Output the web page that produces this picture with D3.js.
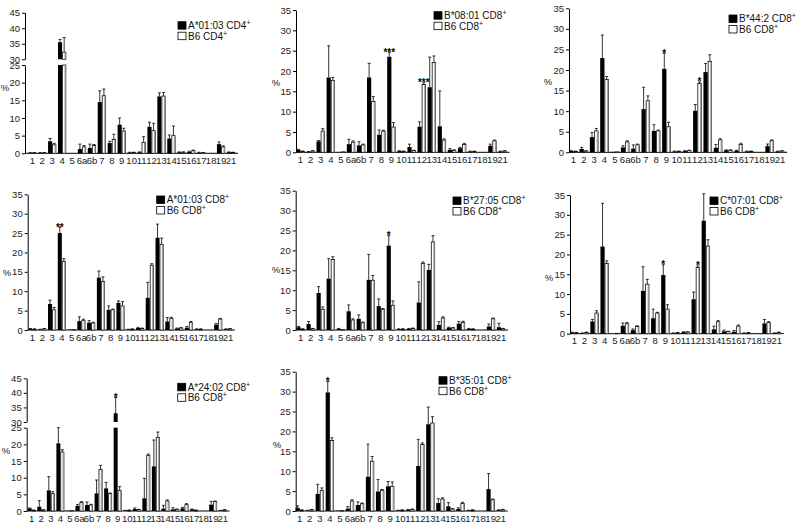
<!DOCTYPE html>
<html><head><meta charset="utf-8">
<script src="https://cdn.jsdelivr.net/npm/d3@7"></script>
<style>body{margin:0;background:#fff} svg{display:block} text{font-family:"Liberation Sans",Arial,sans-serif}</style>
</head><body><svg id="c" width="800" height="526"></svg>
<script>
const categories = ["1","2","3","4","5","6a","6b","7","8","9","10","11","12","13","14","15","16","17","18","19","21"];
const b6CD4      = [0.1,0.1,2.4,32.3,0,1.8,2.2,16.3,3.9,6.3,0.2,3.1,6.4,16.2,5.0,0.3,0.7,0.1,0,1.8,0.2];
const b6CD4Err   = [0.1,0.1,0.4,4.7,0,0.4,0.3,1.9,1.5,0.8,0.1,1.6,2.1,1.0,2.7,0.1,0.2,0.1,0,0.3,0.1];
const a0103CD4   = [0.1,0.1,3.4,35.5,0,1.2,1.5,14.5,2.9,8.1,0.2,0.3,7.5,16.1,4.2,0.3,0.4,0.2,0,2.6,0.3];
const a0103CD4Err= [0.1,0.1,0.8,0.9,0,1.4,1.1,3.2,0.5,1.9,0.1,0.1,1.3,1.0,1.0,0.1,0.2,0.1,0,0.6,0.1];
const b6CD8      = [0.2,0.3,5.2,17.7,0.1,2.5,1.8,12.5,5.2,6.2,0.2,0.4,16.7,22.1,3.0,0.5,1.9,0.2,0,2.8,0.3];
const b6CD8Err   = [0.1,0.1,0.6,0.7,0,0.3,0.2,1.2,0.2,1.1,0.1,0.1,0.4,1.6,0.3,0.1,0.3,0.1,0,0.2,0.1];
const b0801CD8   = [0.6,0.1,2.7,18.4,0,2.0,1.7,18.4,4.3,23.5,0.3,1.3,6.3,16.0,6.4,0.6,1.0,0.2,0,1.6,0.2];
const b0801CD8Err= [0.1,0.1,0.2,7.8,0,1.2,0.9,3.5,1.2,1.1,0.1,0.7,1.2,7.4,8.7,0.3,0.2,0.1,0,0.4,0.1];
const b442CD8    = [0.3,0.8,3.7,22.9,0.1,1.2,0.9,10.5,5.2,20.3,0.2,0.3,10.1,19.5,1.1,0.5,0.4,0.2,0,1.5,0.2];
const b442CD8Err = [0.1,0.4,1.1,5.6,0,0.4,0.9,5.3,1.5,3.8,0.1,0.1,1.5,2.1,0.8,0.1,0.1,0.1,0,0.5,0.1];
const a0103CD8   = [0.3,0.1,6.7,25.0,0.1,2.3,1.9,13.5,5.2,7.0,0.1,0.5,8.3,23.8,2.2,0.4,0.6,0.2,0,1.4,0.2];
const a0103CD8Err= [0.1,0.1,1.0,1.5,0,1.1,0.5,1.7,1.0,0.5,0.1,0.2,4.0,3.5,1.0,0.1,0.3,0.1,0,0.3,0.1];
const b2705CD8   = [0.7,1.5,9.3,12.9,0.3,4.7,2.8,12.6,6.0,21.2,0.2,0.3,6.9,15.1,1.3,0.6,1.6,0.3,0,0.9,0.7];
const b2705CD8Err= [0.2,0.6,1.6,5.0,0.1,1.6,1.0,6.4,1.8,2.5,0.1,0.1,5.2,1.4,0.8,0.1,0.5,0.1,0,0.6,1.0];
const c0701CD8   = [0.3,0.1,3.1,22.0,0,2.0,0.9,10.8,3.9,14.8,0.1,0.4,8.7,28.5,1.1,0.6,0.5,0.1,0,2.6,0.1];
const c0701CD8Err= [0.1,0.1,0.5,10.9,0,0.7,0.3,6.1,2.3,2.6,0.1,0.1,1.8,6.8,0.8,0.3,0.3,0.1,0,1.0,0.1];
const a2402CD8   = [0.8,1.3,6.2,20.3,0.1,1.5,1.8,5.3,6.8,33.0,0.1,0.6,3.8,13.4,0.7,0.5,0.8,0.5,0,1.9,0.1];
const a2402CD8Err= [0.1,1.8,4.1,4.7,0,0.4,0.9,4.0,1.8,5.4,0.1,0.3,6.0,7.9,1.0,0.5,0.3,0.1,0,1.0,0.1];
const b3501CD8   = [0.8,0.1,4.3,29.8,0.1,0.6,1.5,8.6,4.9,6.2,0.1,0.3,11.3,21.8,2.0,1.2,0.5,0.1,0,5.5,0.2];
const b3501CD8Err= [0.5,0.1,2.4,2.7,0,0.5,0.8,8.2,3.0,1.2,0.1,0.1,6.7,4.3,1.1,0.9,0.3,0.1,0,3.9,0.1];
const ticksFull  = [0,5,10,15,20,25,30,35];
const ticksLow   = [0,5,10,15,20,25];
const ticksHigh  = [30,35,40,45];

const panels = [
 {name:"A*01:03 CD4", ctrl:"B6 CD4", v:a0103CD4, e:a0103CD4Err, cv:b6CD4, ce:b6CD4Err, broken:true, stars:[]},
 {name:"B*08:01 CD8", ctrl:"B6 CD8", v:b0801CD8, e:b0801CD8Err, cv:b6CD8, ce:b6CD8Err, stars:[["9",0,"***"],["12",1,"***"]]},
 {name:"B*44:2 CD8",  ctrl:"B6 CD8", v:b442CD8,  e:b442CD8Err,  cv:b6CD8, ce:b6CD8Err, stars:[["9",0,"*"],["12",1,"*"]]},
 {name:"A*01:03 CD8", ctrl:"B6 CD8", v:a0103CD8, e:a0103CD8Err, cv:b6CD8, ce:b6CD8Err, stars:[["4",0,"**"]]},
 {name:"B*27:05 CD8", ctrl:"B6 CD8", v:b2705CD8, e:b2705CD8Err, cv:b6CD8, ce:b6CD8Err, stars:[["9",0,"*"]]},
 {name:"C*07:01 CD8", ctrl:"B6 CD8", v:c0701CD8, e:c0701CD8Err, cv:b6CD8, ce:b6CD8Err, stars:[["9",0,"*"],["12",1,"*"]]},
 {name:"A*24:02 CD8", ctrl:"B6 CD8", v:a2402CD8, e:a2402CD8Err, cv:b6CD8, ce:b6CD8Err, broken:true, stars:[["9",0,"*"]]},
 {name:"B*35:01 CD8", ctrl:"B6 CD8", v:b3501CD8, e:b3501CD8Err, cv:b6CD8, ce:b6CD8Err, stars:[["4",0,"*"]]}
];

const layout = [
 {ax:25,   y0:153.3, y25:65, y30:59.3, y45:12.7, c0:32.3, c1:231,  lx:178,   ly:21.7,  px:5,   py:88},
 {ax:296,  y0:152.3, yt:10,   c0:300.5, c1:502.5, lx:434,   ly:11.7,  px:276, py:83},
 {ax:569,  y0:152.3, yt:8.3,  c0:573.5, c1:780,   lx:729,   ly:15,    px:548, py:82},
 {ax:27.7, y0:330,   yt:194.3,c0:32.5,  c1:228,   lx:156.7, ly:196,   px:7,   py:273},
 {ax:295.7,y0:330,   yt:190.7,c0:300.7, c1:501,   lx:453,   ly:197,   px:276, py:270},
 {ax:570,  y0:333.7, yt:195,  c0:574.3, c1:776.7, lx:710,   ly:197,   px:549, py:278},
 {ax:26.7, y0:511, y25:427.7, y30:422, y45:378.3, c0:31.7, c1:222.7, lx:177.7, ly:383.3, px:6,   py:451},
 {ax:295.7,y0:511,   yt:371.7,c0:299.7, c1:500.7, lx:439,   ly:376.7, px:277, py:445}
];

const svg = d3.select("#c");

panels.forEach((p, pi) => {
  const L = layout[pi];
  const g = svg.append("g");
  const n = categories.length;
  const step = (L.c1 - L.c0) / (n - 1);
  const x = d3.scaleBand().domain(categories)
    .range([L.c0 - step/2, L.c1 + step/2]).paddingInner(0.17).paddingOuter(0.085);
  const x1 = d3.scaleBand().domain([0,1]).range([0, x.bandwidth()]);

  let yLow, yHigh, Y;
  if (p.broken) {
    yLow = d3.scaleLinear().domain([0,25]).range([L.y0, L.y25]);
    yHigh = d3.scaleLinear().domain([30,45]).range([L.y30, L.y45]);
    Y = v => v <= 25 ? yLow(v) : (v >= 30 ? yHigh(v) : yHigh(30));
  } else {
    yLow = d3.scaleLinear().domain([0,35]).range([L.y0, L.yt]);
    Y = v => yLow(v);
  }

  const styleAxis = sel => {
    sel.selectAll("path.domain").attr("stroke","#000").attr("stroke-width",1);
    sel.selectAll(".tick line").attr("stroke","#000");
    sel.selectAll(".tick text").attr("font-size","9.5px").attr("fill","#222")
      .attr("font-family",'"Liberation Sans",Arial,sans-serif');
  };
  if (p.broken) {
    g.append("g").attr("transform",`translate(${L.ax},0)`)
      .call(d3.axisLeft(yLow).tickValues(ticksLow).tickSize(3).tickSizeOuter(0).tickPadding(2))
      .call(styleAxis);
    g.append("g").attr("transform",`translate(${L.ax},0)`)
      .call(d3.axisLeft(yHigh).tickValues(ticksHigh).tickSize(3).tickSizeOuter(0).tickPadding(2))
      .call(styleAxis);
  } else {
    g.append("g").attr("transform",`translate(${L.ax},0)`)
      .call(d3.axisLeft(yLow).tickValues(ticksFull).tickSize(3).tickSizeOuter(0).tickPadding(2))
      .call(styleAxis);
  }
  const xa = g.append("g").attr("transform",`translate(0,${L.y0})`)
    .call(d3.axisBottom(x).tickSize(0).tickPadding(4));
  xa.select("path.domain").remove();
  xa.selectAll(".tick text").attr("font-size","9.5px").attr("fill","#222")
    .attr("font-family",'"Liberation Sans",Arial,sans-serif');
  g.append("line").attr("x1",L.ax).attr("x2",x.range()[1]+2)
    .attr("y1",L.y0).attr("y2",L.y0).attr("stroke","#000").attr("stroke-width",1);

  g.append("text").attr("x",L.px).attr("y",L.py).attr("text-anchor","middle")
    .attr("dy","0.35em").attr("font-size","9.5px").attr("fill","#222").text("%");

  const series = [{vals:p.v, errs:p.e, s:0},{vals:p.cv, errs:p.ce, s:1}];
  series.forEach(S => {
    const data = categories.map((c,i)=>({c, v:S.vals[i], e:S.errs[i]}));
    const bg = g.append("g");
    data.forEach(d => {
      const bx = x(d.c) + x1(S.s);
      const bw = x1.bandwidth();
      const segs = [];
      if (p.broken && d.v > 25) {
        segs.push([yLow(25), L.y0]);
        segs.push([yHigh(d.v), yHigh(30)]);
      } else {
        segs.push([Y(d.v), L.y0]);
      }
      segs.forEach(([t,b]) => {
        if (b - t < 0.2) return;
        if (S.s === 0) {
          bg.append("rect").attr("x",bx).attr("y",t).attr("width",bw).attr("height",b-t).attr("fill","#000");
        } else {
          bg.append("rect").attr("x",bx+0.4).attr("y",t).attr("width",bw-0.8).attr("height",b-t)
            .attr("fill","#fff").attr("stroke","#111").attr("stroke-width",0.8);
          bg.append("line").attr("x1",bx+bw-1.1).attr("x2",bx+bw-1.1).attr("y1",t+0.5).attr("y2",b)
            .attr("stroke","#999").attr("stroke-width",1.2);
        }
      });
      if (d.e > 0) {
        const cx = bx + bw/2;
        const yt = Y(d.v + d.e), yb = Y(d.v);
        bg.append("line").attr("x1",cx).attr("x2",cx).attr("y1",yt).attr("y2",yb)
          .attr("stroke","#000").attr("stroke-width",0.8);
        bg.append("line").attr("x1",cx-1.5).attr("x2",cx+1.5).attr("y1",yt).attr("y2",yt)
          .attr("stroke","#000").attr("stroke-width",0.8);
      }
    });
  });

  p.stars.forEach(([c,s,t]) => {
    const i = categories.indexOf(c);
    const vals = s===0 ? p.v : p.cv, errs = s===0 ? p.e : p.ce;
    const cx = x(c) + x1(s) + x1.bandwidth()/2;
    g.append("text").attr("x",cx).attr("y",Y(vals[i]+errs[i]) + 3.5)
      .attr("text-anchor","middle").attr("font-size","10px").attr("font-weight","bold")
      .attr("fill","#000").text(t);
  });

  const items = [{lab:p.name, fill:"#000"},{lab:p.ctrl, fill:"#fff"}];
  items.forEach((it,k) => {
    const yy = L.ly + k*10.5;
    g.append("rect").attr("x",L.lx).attr("y",yy).attr("width",8).attr("height",7.5)
      .attr("fill",it.fill).attr("stroke","#000").attr("stroke-width",0.8);
    const tx = g.append("text").attr("x",L.lx+10).attr("y",yy+7.3)
      .attr("font-size","10px").attr("fill","#111");
    tx.append("tspan").text(it.lab);
    tx.append("tspan").attr("font-size","7px").attr("dy","-4").text("+");
  });
});
</script></body></html>
